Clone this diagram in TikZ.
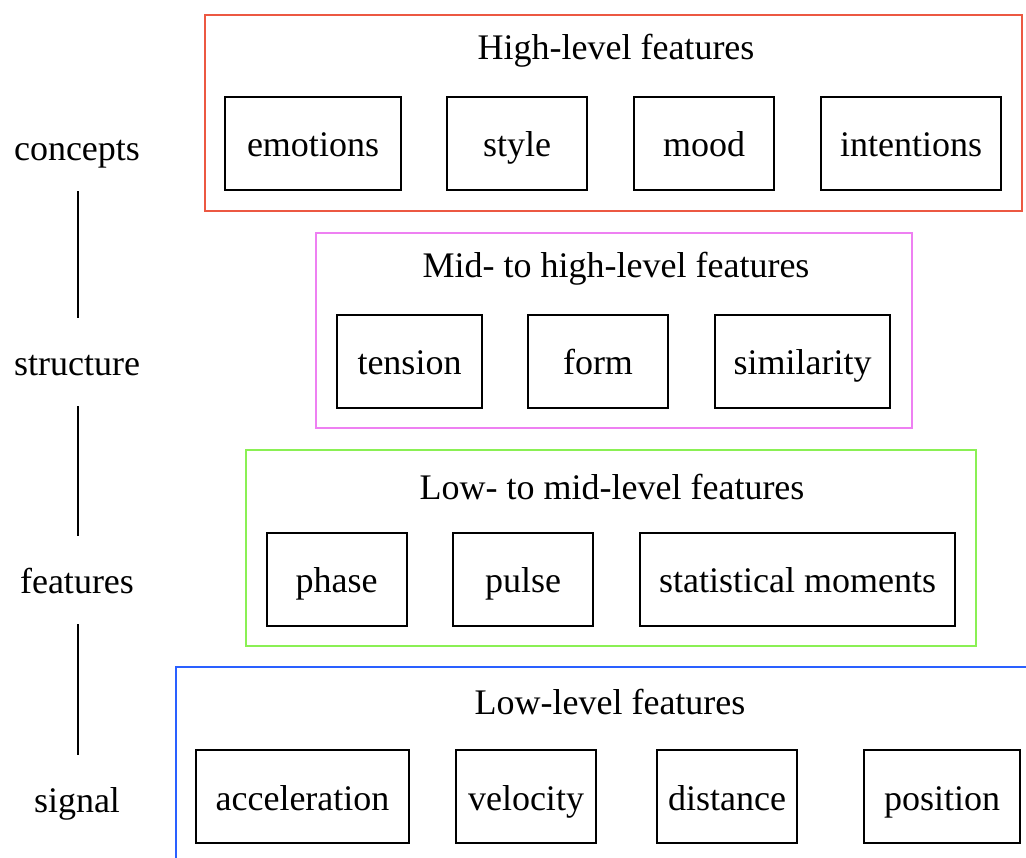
\documentclass[tikz,border=0pt]{standalone}
\usepackage{fontspec}
\setmainfont{Liberation Serif}
\definecolor{hired}{RGB}{236,88,66}
\definecolor{midmag}{RGB}{238,128,242}
\definecolor{lowgreen}{RGB}{138,240,84}
\definecolor{lowblue}{RGB}{42,96,255}
\begin{document}
\begin{tikzpicture}[x=1pt,y=-1pt,font=\fontsize{36}{43}\selectfont,
  item/.style={draw=black,line width=2pt,minimum height=93pt,inner sep=0pt,text height=30pt,text depth=3pt},
  group/.style={line width=2pt,inner sep=0pt},
  title/.style={inner sep=0pt},
  lvl/.style={minimum height=88pt,inner sep=0pt,text height=30pt,text depth=3pt},
  link/.style={line width=2pt,black}]
\path[use as bounding box,clip] (0,0) rectangle (1026,858);
% group boxes
\node[group,draw=hired,minimum width=817pt,minimum height=196pt] (gHigh) at (613.5,113) {};
\node[group,draw=midmag,minimum width=596pt,minimum height=195pt] (gMid) at (614,330.5) {};
\node[group,draw=lowgreen,minimum width=730pt,minimum height=196pt] (gLowMid) at (611,548) {};
\node[group,draw=lowblue,minimum width=924pt,minimum height=233pt] (gLow) at (638,783.5) {};
% titles
\node[title] (tHigh) at (616,51) {High-level features};
\node[title] (tMid) at (616,269) {Mid- to high-level features};
\node[title] (tLowMid) at (612,487) {Low- to mid-level features};
\node[title] (tLow) at (610,702) {Low-level features};
% items
\node[item,minimum width=176pt] (emotions) at (313,143.5) {emotions};
\node[item,minimum width=140pt] (style) at (517,143.5) {style};
\node[item,minimum width=140pt] (mood) at (704,143.5) {mood};
\node[item,minimum width=180pt] (intentions) at (911,143.5) {intentions};
\node[item,minimum width=145pt] (tension) at (409.5,361.5) {tension};
\node[item,minimum width=140pt] (form) at (598,361.5) {form};
\node[item,minimum width=175pt] (similarity) at (802.5,361.5) {similarity};
\node[item,minimum width=140pt] (phase) at (336.5,579) {phase};
\node[item,minimum width=140pt] (pulse) at (523,579) {pulse};
\node[item,minimum width=315pt] (moments) at (797.5,579) {statistical moments};
\node[item,minimum width=213pt] (acceleration) at (302.5,796.5) {acceleration};
\node[item,minimum width=140pt] (velocity) at (526,796.5) {velocity};
\node[item,minimum width=140pt] (distance) at (727,796.5) {distance};
\node[item,minimum width=156pt] (position) at (942,796.5) {position};
% levels
\node[lvl] (concepts) at (77,147) {concepts};
\node[lvl] (structure) at (77,362) {structure};
\node[lvl] (features) at (77,580) {features};
\node[lvl] (signal) at (77,799) {signal};
\draw[link] ([xshift=1pt]concepts.south) -- ([xshift=1pt]structure.north);
\draw[link] ([xshift=1pt]structure.south) -- ([xshift=1pt]features.north);
\draw[link] ([xshift=1pt]features.south) -- ([xshift=1pt]signal.north);
\end{tikzpicture}
\end{document}
